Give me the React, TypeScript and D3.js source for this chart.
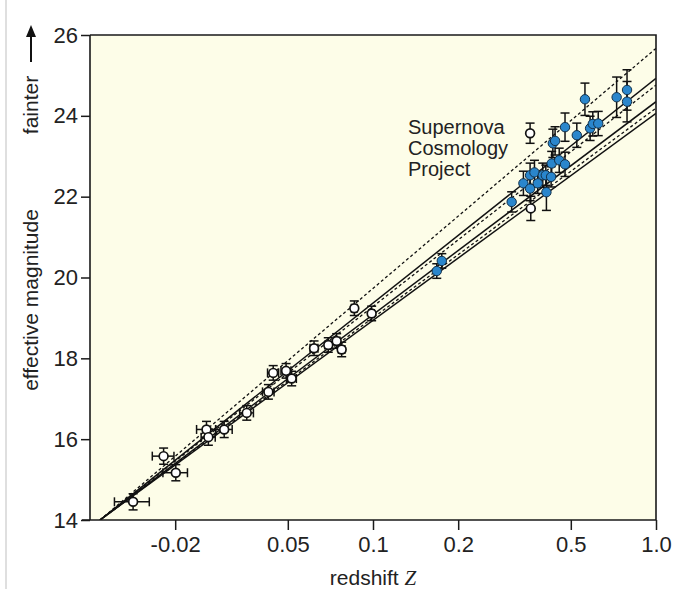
import React, { useEffect, useRef } from 'react';
import * as d3 from 'd3';

// x ticks (redshift, log scale) and y ticks (magnitude)
const xTicks = [0.02, 0.05, 0.1, 0.2, 0.5, 1.0];
const xTickLabels = ['-0.02', '0.05', '0.1', '0.2', '0.5', '1.0'];
const yTicks = [14, 16, 18, 20, 22, 24, 26];

// nearby supernovae (open circles): [z, magnitude, z error, mag error]
const nearbySN: [number, number, number, number][] = [
  [0.0142, 14.45, 0.002, 0.2],
  [0.0182, 15.58, 0.0016, 0.2],
  [0.0201, 15.17, 0.002, 0.2],
  [0.0258, 16.24, 0.002, 0.2],
  [0.0262, 16.05, 0.0015, 0.2],
  [0.0298, 16.24, 0.002, 0.2],
  [0.0358, 16.65, 0.002, 0.18],
  [0.0427, 17.17, 0.002, 0.18],
  [0.0444, 17.64, 0.002, 0.18],
  [0.0493, 17.69, 0.002, 0.18],
  [0.0516, 17.5, 0.002, 0.18],
  [0.0619, 18.25, 0.002, 0.18],
  [0.0695, 18.33, 0.002, 0.18],
  [0.0744, 18.43, 0.002, 0.18],
  [0.0775, 18.22, 0.002, 0.18],
  [0.0859, 19.24, 0.002, 0.18],
  [0.0989, 19.11, 0.002, 0.18],
];

// high-redshift open circles: [z, magnitude, mag error]
const distantOpen: [number, number, number][] = [
  [0.359, 23.57, 0.25],
  [0.361, 21.71, 0.3],
];

// Supernova Cosmology Project (blue): [z, magnitude, mag error]
const scpSN: [number, number, number][] = [
  [0.168, 20.16, 0.18],
  [0.175, 20.41, 0.18],
  [0.309, 21.87, 0.25],
  [0.34, 22.33, 0.3],
  [0.359, 22.2, 0.3],
  [0.359, 22.53, 0.3],
  [0.372, 22.6, 0.3],
  [0.382, 22.33, 0.25],
  [0.398, 22.53, 0.3],
  [0.408, 22.53, 0.25],
  [0.41, 22.11, 0.45],
  [0.426, 22.49, 0.25],
  [0.428, 22.82, 0.3],
  [0.432, 23.32, 0.35],
  [0.44, 23.38, 0.35],
  [0.455, 22.9, 0.3],
  [0.477, 22.8, 0.3],
  [0.477, 23.72, 0.35],
  [0.525, 23.52, 0.3],
  [0.561, 24.41, 0.4],
  [0.585, 23.69, 0.3],
  [0.598, 23.8, 0.3],
  [0.625, 23.81, 0.3],
  [0.726, 24.46, 0.5],
  [0.79, 24.64, 0.5],
  [0.79, 24.35, 0.5],
];

// cosmological model curves: start and end points [z, magnitude]
const modelLines: [number, number][][] = [
  [[0.01085, 14.0], [1.0, 25.67]],
  [[0.01085, 14.0], [1.0, 24.93]],
  [[0.01085, 14.0], [1.0, 24.76]],
  [[0.01085, 14.0], [1.0, 24.35]],
  [[0.01085, 14.0], [1.0, 24.19]],
  [[0.01085, 14.0], [1.0, 24.06]],
];
const modelDash = ['3,2.5', null, '3,2.5', null, '3,2.5', null];

const labelLines = ['Supernova', 'Cosmology', 'Project'];

const Chart: React.FC = () => {
  const svgRef = useRef<SVGSVGElement | null>(null);

  useEffect(() => {
    if (!svgRef.current) return;

    const width = 688;
    const height = 589;
    const margin = { top: 35, right: 32, bottom: 69, left: 90 };
    const font = '"Liberation Sans", Arial, sans-serif';

    const x = d3
      .scaleLog()
      .domain([0.01, 1])
      .range([margin.left, width - margin.right]);
    const y = d3
      .scaleLinear()
      .domain([14, 26])
      .range([height - margin.bottom, margin.top]);

    const svg = d3.select(svgRef.current);
    svg.selectAll('*').remove();

    svg.append('rect').attr('width', width).attr('height', height).attr('fill', '#fff');
    // faint scan border
    svg.append('line').attr('x1', 6).attr('x2', 6).attr('y1', 0).attr('y2', height)
      .attr('stroke', '#d4d4d4').attr('stroke-width', 1.5);

    // plot background
    svg
      .append('rect')
      .attr('x', margin.left)
      .attr('y', margin.top)
      .attr('width', width - margin.right - margin.left)
      .attr('height', height - margin.bottom - margin.top)
      .attr('fill', '#fdfde8');

    // model lines
    const line = d3
      .line<[number, number]>()
      .x((d) => x(d[0]))
      .y((d) => y(d[1]));

    const clip = svg.append('clipPath').attr('id', 'plot-clip');
    clip
      .append('rect')
      .attr('x', margin.left)
      .attr('y', margin.top)
      .attr('width', width - margin.right - margin.left)
      .attr('height', height - margin.bottom - margin.top);

    const models = svg.append('g').attr('clip-path', 'url(#plot-clip)');
    modelLines.forEach((pts, i) => {
      models
        .append('path')
        .attr('d', line(pts))
        .attr('fill', 'none')
        .attr('stroke', '#111')
        .attr('stroke-width', modelDash[i] ? 1.3 : 1.5)
        .attr('stroke-dasharray', modelDash[i] ?? null);
    });

    const cap = 4.5;
    const drawErr = (
      g: d3.Selection<SVGGElement, unknown, null, undefined>,
      z: number,
      m: number,
      me: number,
      ze?: number
    ) => {
      const cx = x(z);
      const y1 = y(m + me);
      const y2 = y(m - me);
      g.append('line').attr('x1', cx).attr('x2', cx).attr('y1', y1).attr('y2', y2);
      g.append('line').attr('x1', cx - cap).attr('x2', cx + cap).attr('y1', y1).attr('y2', y1);
      g.append('line').attr('x1', cx - cap).attr('x2', cx + cap).attr('y1', y2).attr('y2', y2);
      if (ze) {
        const xa = x(z - ze);
        const xb = x(z + ze);
        const cy = y(m);
        g.append('line').attr('x1', xa).attr('x2', xb).attr('y1', cy).attr('y2', cy);
        g.append('line').attr('x1', xa).attr('x2', xa).attr('y1', cy - cap).attr('y2', cy + cap);
        g.append('line').attr('x1', xb).attr('x2', xb).attr('y1', cy - cap).attr('y2', cy + cap);
      }
    };

    const errs = svg.append('g').attr('stroke', '#111').attr('stroke-width', 1.5);
    nearbySN.forEach((d) => drawErr(errs, d[0], d[1], d[3], d[2]));
    distantOpen.forEach((d) => drawErr(errs, d[0], d[1], d[2]));
    scpSN.forEach((d) => drawErr(errs, d[0], d[1], d[2]));

    svg
      .append('g')
      .selectAll('circle')
      .data(nearbySN.map((d) => [d[0], d[1]]).concat(distantOpen.map((d) => [d[0], d[1]])))
      .enter()
      .append('circle')
      .attr('cx', (d) => x(d[0]))
      .attr('cy', (d) => y(d[1]))
      .attr('r', 4.4)
      .attr('fill', '#fff')
      .attr('stroke', '#111')
      .attr('stroke-width', 1.7);

    svg
      .append('g')
      .selectAll('circle')
      .data(scpSN)
      .enter()
      .append('circle')
      .attr('cx', (d) => x(d[0]))
      .attr('cy', (d) => y(d[1]))
      .attr('r', 4.7)
      .attr('fill', '#2a86cc')
      .attr('stroke', '#123049')
      .attr('stroke-width', 1);

    // frame
    const x0 = margin.left;
    const x1 = width - margin.right;
    const y0 = margin.top;
    const y1 = height - margin.bottom;
    svg
      .append('path')
      .attr('d', `M${x0},${y0}H${x1}V${y1}H${x0 - 8}M${x0},${y1}V${y0}`)
      .attr('fill', 'none')
      .attr('stroke', '#1a1a1a')
      .attr('stroke-width', 1.6);

    // y axis
    const yAxis = svg
      .append('g')
      .attr('transform', `translate(${margin.left},0)`)
      .call(d3.axisLeft(y).tickValues(yTicks).tickSize(9).tickPadding(3).tickFormat(d3.format('d')));
    yAxis.select('.domain').remove();
    yAxis.selectAll('line').attr('stroke', '#1a1a1a').attr('stroke-width', 1.5);
    yAxis.selectAll('text').attr('fill', '#222').attr('font-size', '22px').attr('font-family', font);

    // x axis
    const xAxis = svg
      .append('g')
      .attr('transform', `translate(0,${height - margin.bottom})`)
      .call(
        d3
          .axisBottom(x)
          .tickValues(xTicks)
          .tickSize(10)
          .tickPadding(6)
          .tickFormat((_, i) => xTickLabels[i])
      );
    xAxis.select('.domain').remove();
    xAxis.selectAll('line').attr('stroke', '#1a1a1a').attr('stroke-width', 1.5);
    xAxis.selectAll('text').attr('fill', '#222').attr('font-size', '22px').attr('font-family', font);

    // axis titles
    const xt = svg
      .append('text')
      .attr('x', (x0 + x1) / 2)
      .attr('y', 585)
      .attr('text-anchor', 'middle')
      .attr('fill', '#222')
      .attr('font-size', '21px')
      .attr('font-family', font);
    xt.append('tspan').text('redshift ');
    xt.append('tspan').attr('font-style', 'italic').attr('font-family', '"Liberation Serif", serif').text('Z');

    svg
      .append('text')
      .attr('transform', 'translate(38,300) rotate(-90)')
      .attr('text-anchor', 'middle')
      .attr('fill', '#222')
      .attr('font-size', '21px')
      .attr('font-family', font)
      .text('effective magnitude');

    svg
      .append('text')
      .attr('transform', 'translate(38,105) rotate(-90)')
      .attr('text-anchor', 'middle')
      .attr('fill', '#222')
      .attr('font-size', '21px')
      .attr('font-family', font)
      .text('fainter');

    svg.append('line').attr('x1', 31).attr('x2', 31).attr('y1', 62).attr('y2', 34)
      .attr('stroke', '#111').attr('stroke-width', 2);
    svg.append('path').attr('d', 'M31,25L26,37L36,37Z').attr('fill', '#111');

    // annotation
    const note = svg
      .append('text')
      .attr('x', 408)
      .attr('y', 134)
      .attr('fill', '#222')
      .attr('font-size', '20px')
      .attr('font-family', font);
    labelLines.forEach((t, i) => {
      note.append('tspan').attr('x', 408).attr('dy', i === 0 ? 0 : 21).text(t);
    });
  }, []);

  return (
    <svg
      ref={svgRef}
      width={688}
      height={589}
      style={{ position: 'absolute', left: 0, top: 0 }}
    />
  );
};

export default function App() {
  return <Chart />;
}
